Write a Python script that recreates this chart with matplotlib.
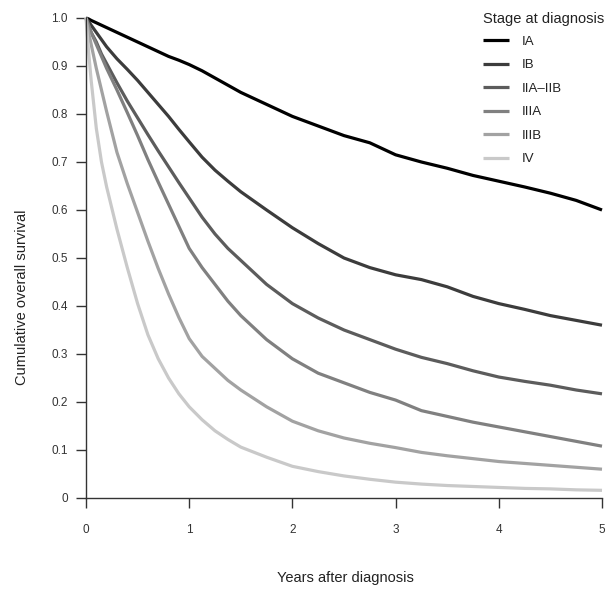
import matplotlib
matplotlib.use("Agg")
import matplotlib.pyplot as plt

plt.rcParams['font.family'] = ['Liberation Sans', 'DejaVu Sans']

# survival, years after diagnosis
years = [0, 0.025, 0.05, 0.1, 0.15, 0.2, 0.3, 0.4, 0.5, 0.6, 0.7, 0.8, 0.9, 1.0,
         1.125, 1.25, 1.375, 1.5, 1.75, 2.0, 2.25, 2.5, 2.75, 3.0, 3.25, 3.5, 3.75,
         4.0, 4.25, 4.5, 4.75, 5.0]

stage_ia = [1.0, 0.998, 0.995, 0.99, 0.985, 0.98, 0.97, 0.96, 0.95, 0.94, 0.93, 0.92,
            0.912, 0.903, 0.89, 0.875, 0.86, 0.845, 0.82, 0.795, 0.775, 0.755, 0.74,
            0.715, 0.70, 0.687, 0.672, 0.66, 0.648, 0.635, 0.62, 0.60]
stage_ib = [1.0, 0.993, 0.985, 0.97, 0.955, 0.94, 0.915, 0.893, 0.87, 0.845, 0.82, 0.795,
            0.768, 0.742, 0.71, 0.683, 0.66, 0.638, 0.60, 0.563, 0.53, 0.50, 0.48,
            0.465, 0.455, 0.44, 0.42, 0.405, 0.393, 0.38, 0.37, 0.36]
stage_iia = [1.0, 0.985, 0.97, 0.95, 0.925, 0.905, 0.865, 0.827, 0.792, 0.757, 0.723, 0.69,
             0.657, 0.625, 0.585, 0.55, 0.52, 0.495, 0.445, 0.405, 0.375, 0.35, 0.33,
             0.31, 0.293, 0.28, 0.265, 0.252, 0.243, 0.235, 0.225, 0.217]
stage_iiia = [1.0, 0.985, 0.97, 0.945, 0.92, 0.895, 0.85, 0.803, 0.755, 0.705, 0.658, 0.612,
              0.566, 0.52, 0.48, 0.445, 0.41, 0.38, 0.33, 0.29, 0.26, 0.24, 0.22,
              0.204, 0.182, 0.17, 0.158, 0.148, 0.138, 0.128, 0.118, 0.108]
stage_iiib = [1.0, 0.97, 0.945, 0.895, 0.85, 0.805, 0.72, 0.655, 0.595, 0.535, 0.478, 0.425,
              0.376, 0.332, 0.295, 0.27, 0.245, 0.225, 0.19, 0.16, 0.14, 0.125, 0.114,
              0.105, 0.095, 0.088, 0.082, 0.076, 0.072, 0.068, 0.064, 0.06]
stage_iv = [1.0, 0.93, 0.87, 0.77, 0.70, 0.648, 0.56, 0.48, 0.405, 0.34, 0.29, 0.25,
            0.217, 0.19, 0.163, 0.14, 0.122, 0.106, 0.085, 0.066, 0.055, 0.046, 0.039,
            0.033, 0.029, 0.026, 0.024, 0.022, 0.02, 0.019, 0.017, 0.016]

labels = ['IA', 'IB', 'IIA\u2013IIB', 'IIIA', 'IIIB', 'IV']
series = [stage_ia, stage_ib, stage_iia, stage_iiia, stage_iiib, stage_iv]
greys = ['#000000', '#3c3c3c', '#5c5c5c', '#808080', '#a2a2a2', '#c9c9c9']

fig = plt.figure(figsize=(6.06, 5.92), dpi=100)
ax = fig.add_axes([86 / 606, 1 - 498 / 592, 516 / 606, 480 / 592])

for surv, lab, col in zip(series, labels, greys):
    ax.plot(years, surv, color=col, lw=2.3, label=lab, clip_on=False,
            solid_joinstyle='round', solid_capstyle='butt')

ax.set_xlim(0, 5)
ax.set_ylim(0, 1)
ax.set_xticks(range(6))
ax.set_yticks([i / 10 for i in range(11)])
ax.set_yticklabels(['0'] + [f'{i / 10:.1f}' for i in range(1, 11)])

for side in ['top', 'right']:
    ax.spines[side].set_visible(False)
for side in ['left', 'bottom']:
    ax.spines[side].set_color('#333333')
    ax.spines[side].set_linewidth(1.0)

ax.tick_params(axis='y', direction='out', length=7, width=1, color='#333333',
               labelsize=8.5, labelcolor='#333333', pad=6)
ax.tick_params(axis='x', direction='out', length=7, width=1, color='#333333',
               labelsize=8.5, labelcolor='#333333', pad=12)

fig.text(22 / 606, 1 - 297 / 592, 'Cumulative overall survival', rotation=90,
         ha='center', va='center', fontsize=10.5, color='#222222')
fig.text(345 / 606, 1 - 578 / 592, 'Years after diagnosis',
         ha='center', va='center', fontsize=10.5, color='#222222')

leg = ax.legend(loc='upper left', bbox_to_anchor=(476 / 606, 1 - 5 / 592),
                bbox_transform=fig.transFigure, frameon=False, title='Stage at diagnosis',
                fontsize=9.5, title_fontsize=10.5, handlelength=2.0, handletextpad=1.0,
                labelspacing=0.86, borderpad=0, alignment='left')
leg._legend_box.sep = 7
for t in leg.get_texts():
    t.set_color('#222222')
leg.get_title().set_color('#222222')

fig.savefig('out.png', dpi=100)
